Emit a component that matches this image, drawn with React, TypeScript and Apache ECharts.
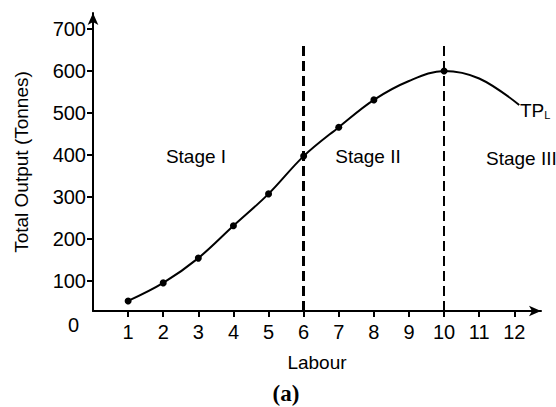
import React, { useEffect, useRef } from "react";
import * as echarts from "echarts";

const labour = [1, 2, 3, 4, 5, 6, 7, 8, 9, 10, 11, 12.14];
const totalOutput = [52, 95, 154, 231, 307, 397, 466, 531, 576, 600, 582, 519];
const markedPoints = [true, true, true, true, true, true, true, true, false, true, false, false];
const xTicks = [1, 2, 3, 4, 5, 6, 7, 8, 9, 10, 11, 12];
const yTicks = [100, 200, 300, 400, 500, 600, 700];
const stageBoundaries = [6, 10];
const stageLabels = ["Stage I", "Stage II", "Stage III"];

const FONT = "Liberation Sans, Arial, Helvetica, sans-serif";

export default function App() {
  const ref = useRef<HTMLDivElement>(null);
  useEffect(() => {
    if (!ref.current) return;
    const chart = echarts.init(ref.current, undefined, { renderer: "svg" });
    const data = labour.map((x, i) => ({
      value: [x, totalOutput[i]],
      symbol: markedPoints[i] ? "circle" : "none",
    }));
    chart.setOption({
      animation: false,
      backgroundColor: "#fff",
      grid: { left: 93, right: 15, top: 13, bottom: 96 },
      xAxis: {
        type: "value",
        min: 0,
        max: 12.76,
        name: "Labour",
        nameLocation: "middle",
        nameGap: 42,
        nameTextStyle: { color: "#000", fontSize: 19, fontFamily: FONT },
        splitLine: { show: false },
        axisLine: {
          lineStyle: { color: "#000", width: 2 },
          symbol: ["none", "arrow"],
          symbolSize: [8, 12],
        },
        axisTick: { customValues: xTicks, length: 6, lineStyle: { color: "#000", width: 2 } },
        axisLabel: { customValues: xTicks, color: "#000", fontSize: 20, fontFamily: FONT, margin: 11 },
      },
      yAxis: {
        type: "value",
        min: 28,
        max: 738,
        name: "Total Output (Tonnes)",
        nameLocation: "middle",
        nameGap: 62,
        nameTextStyle: { color: "#000", fontSize: 19, fontFamily: FONT },
        splitLine: { show: false },
        axisLine: {
          lineStyle: { color: "#000", width: 2 },
          symbol: ["none", "arrow"],
          symbolSize: [8, 12],
        },
        axisTick: { customValues: yTicks, length: 6, lineStyle: { color: "#000", width: 2 } },
        axisLabel: { customValues: yTicks, color: "#000", fontSize: 20, fontFamily: FONT, margin: 7 },
      },
      series: [
        {
          type: "line",
          data,
          smooth: 0.35,
          symbolSize: 7,
          lineStyle: { color: "#000", width: 2 },
          itemStyle: { color: "#000" },
          markLine: {
            silent: true,
            symbol: "none",
            label: { show: false },
            data: stageBoundaries.map((b, i) => [
              { coord: [b, 28], lineStyle: { color: "#000", type: [10, 5], width: i === 0 ? 3 : 2 } },
              { coord: [b, 665] },
            ]),
          },
        },
      ],
      graphic: [
        { type: "text", x: 79, y: 325, style: { text: "0", fill: "#000", font: `20px ${FONT}`, align: "right", verticalAlign: "middle" } },
        { type: "text", x: 196, y: 156, style: { text: stageLabels[0], fill: "#000", font: `19px ${FONT}`, align: "center", verticalAlign: "middle" } },
        { type: "text", x: 368, y: 156, style: { text: stageLabels[1], fill: "#000", font: `19px ${FONT}`, align: "center", verticalAlign: "middle" } },
        { type: "text", x: 486, y: 158, style: { text: stageLabels[2], fill: "#000", font: `19px ${FONT}`, align: "left", verticalAlign: "middle" } },
        {
          type: "text",
          x: 520,
          y: 110,
          style: {
            text: "{a|TP}{b|L}",
            verticalAlign: "middle",
            rich: {
              a: { fontSize: 19, fontFamily: FONT, fill: "#000" },
              b: { fontSize: 11, fontFamily: FONT, fill: "#000", padding: [10, 0, 0, 0] },
            },
          },
        },
        { type: "text", x: 286, y: 393, style: { text: "(a)", fill: "#000", font: `bold 23px Liberation Serif, Times New Roman, serif`, align: "center", verticalAlign: "middle" } },
      ],
    });
    return () => chart.dispose();
  }, []);
  return <div ref={ref} style={{ width: 556, height: 407, position: "absolute", left: 0, top: 0 }} />;
}
